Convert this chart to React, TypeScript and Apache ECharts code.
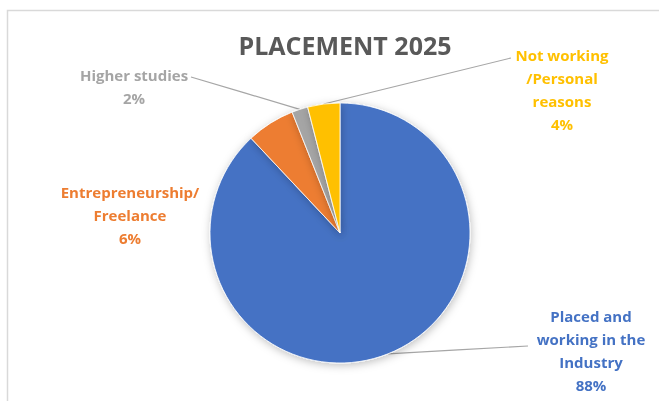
import React, { useEffect, useRef } from "react";
import * as echarts from "echarts";

const categories = [
  "Placed and\nworking in the\nIndustry",
  "Entrepreneurship/\nFreelance",
  "Higher studies",
  "Not working\n/Personal\nreasons",
];
const values = [88, 6, 2, 4];
const colors = ["#4472C4", "#ED7D31", "#A5A5A5", "#FFC000"];
const titleText = "PLACEMENT 2025";

// label centres and leader-line anchors (layout only)
const labelPos = [
  { x: 591, y: 350, end: [528, 346] as number[] | null },
  { x: 130, y: 215, end: null },
  { x: 134, y: 86, end: [191, 77] },
  { x: 562, y: 89, end: [511, 58] },
];

export default function App() {
  const ref = useRef<HTMLDivElement>(null);
  useEffect(() => {
    const chart = echarts.init(ref.current!, null, { renderer: "svg" });
    const font = "'Open Sans', 'Noto Sans', sans-serif";
    chart.setOption({
      animation: false,
      graphic: [
        {
          type: "rect",
          z: -10,
          shape: { x: 7.5, y: 10.5, width: 700, height: 500 },
          style: { fill: "#ffffff", stroke: "#d9d9d9", lineWidth: 1.5 },
        },
      ],
      title: {
        text: titleText,
        left: 340,
        top: 27,
        textAlign: "center",
        textStyle: {
          fontFamily: font,
          fontSize: 25,
          fontWeight: "bold",
          color: "#595959",
        },
      },
      series: [
        {
          type: "pie",
          center: [340, 233],
          radius: 130,
          startAngle: 90,
          clockwise: true,
          itemStyle: {
            borderColor: "#ffffff",
            borderWidth: 0.8,
            shadowBlur: 8,
            shadowOffsetX: 1,
            shadowOffsetY: 2,
            shadowColor: "rgba(0,0,0,0.25)",
          },
          label: {
            show: true,
            formatter: "{b}\n{c}%",
            fontFamily: font,
            fontSize: 15,
            fontWeight: "bold",
            lineHeight: 23,
            align: "center",
          },
          labelLine: {
            show: true,
            lineStyle: { color: "#a6a6a6", width: 1.2 },
          },
          labelLayout: (params: any) => {
            const p = labelPos[params.dataIndex];
            const res: any = {
              x: p.x,
              y: p.y,
              align: "center",
              verticalAlign: "middle",
            };
            if (p.end && params.labelLinePoints) {
              const p0 = params.labelLinePoints[0];
              res.labelLinePoints = [
                p0,
                [(p0[0] + p.end[0]) / 2, (p0[1] + p.end[1]) / 2],
                p.end,
              ];
            }
            return res;
          },
          data: categories.map((name, i) => ({
            name,
            value: values[i],
            itemStyle: { color: colors[i] },
            label: { color: colors[i] },
            labelLine: { show: labelPos[i].end !== null },
          })),
        },
      ],
    });
    return () => chart.dispose();
  }, []);
  return (
    <div
      ref={ref}
      style={{ position: "fixed", left: 0, top: 0, width: 659, height: 401 }}
    />
  );
}
